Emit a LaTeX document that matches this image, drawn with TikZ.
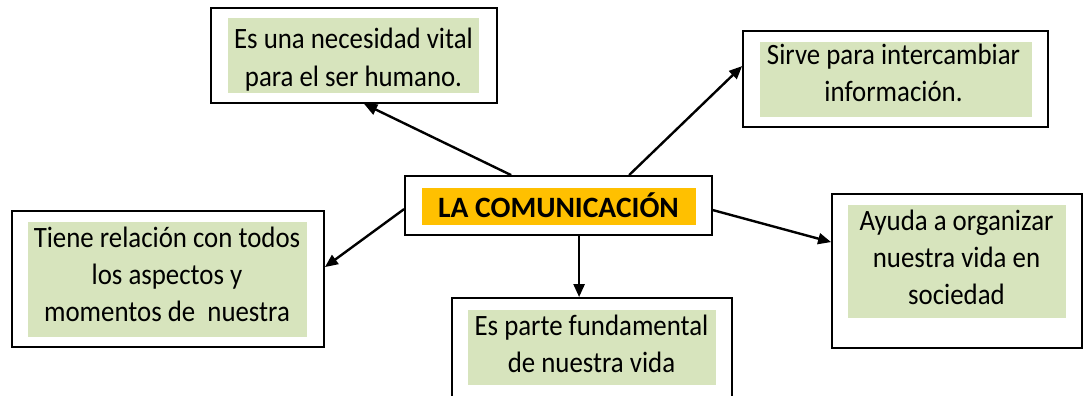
\documentclass[tikz,border=0pt]{standalone}
\usepackage{fontspec}
\setmainfont{Carlito}
\usetikzlibrary{arrows.meta}
\definecolor{boxgreen}{RGB}{215,228,189}
\definecolor{boxorange}{RGB}{255,192,0}
\newcommand\mylines[1]{\scalebox{0.91}[1]{\vtop{\halign{\hfil##\hfil\cr#1\crcr}}}}
\begin{document}
\begin{tikzpicture}[x=1pt,y=-1pt,
  outerbox/.style={draw=black,line width=1.8pt,fill=white,inner sep=0pt,rectangle},
  greenbox/.style={fill=boxgreen,inner sep=0pt,rectangle},
  orangebox/.style={fill=boxorange,inner sep=0pt,rectangle},
  txt/.style={anchor=base,inner sep=0pt,font=\fontsize{29.5pt}{37pt}\selectfont},
  boldtxt/.style={anchor=base,inner sep=0pt,font=\fontsize{29.5pt}{37pt}\selectfont\bfseries},
  conn/.style={line width=2.4pt,-{Triangle[length=13pt,width=11pt]}}]
\useasboundingbox (0,0) rectangle (1085,396);
\clip (0,0) rectangle (1085,396);

% outer boxes
\node[outerbox,minimum width=286pt,minimum height=95pt] (a) at (354,55.5) {};
\node[outerbox,minimum width=305pt,minimum height=96pt] (b) at (895.5,79) {};
\node[outerbox,minimum width=307pt,minimum height=59pt] (c) at (558.5,205.5) {};
\node[outerbox,minimum width=312pt,minimum height=136pt] (l) at (168,279) {};
\node[outerbox,minimum width=280pt,minimum height=122pt] (d) at (592,359) {};
\node[outerbox,minimum width=250pt,minimum height=154pt] (r) at (957,271) {};

% inner fills
\node[greenbox,minimum width=251pt,minimum height=75pt] (ag) at (353.5,55.5) {};
\node[greenbox,minimum width=272pt,minimum height=75pt] (bg) at (896,79.5) {};
\node[orangebox,minimum width=274pt,minimum height=37pt] (cg) at (559,206.5) {};
\node[greenbox,minimum width=279pt,minimum height=115pt] (lg) at (167.5,279.5) {};
\node[greenbox,minimum width=248pt,minimum height=75pt] (dg) at (592,347.5) {};
\node[greenbox,minimum width=218pt,minimum height=113pt] (rg) at (957,261.5) {};

% texts
\node[txt] (at) at (353.5,49) {\mylines{Es una necesidad vital\cr para el ser humano.}};
\node[txt] (bt) at (893.5,65) {\mylines{Sirve para intercambiar\cr información.}};
\node[boldtxt] (ct) at (558.5,217) {LA COMUNICACIÓN};
\node[txt] (lt) at (167,247) {\mylines{Tiene relación con todos\cr los aspectos y\cr momentos de\ \ nuestra}};
\node[txt] (dt) at (591.5,335) {\mylines{Es parte fundamental\cr de nuestra vida}};
\node[txt] (rt) at (956.5,230) {\mylines{Ayuda a organizar\cr nuestra vida en\cr sociedad}};

% connectors
\draw[conn] ([xshift=107pt]c.north west) -- ([xshift=154pt]a.south west);
\draw[conn] ([xshift=225pt]c.north west) -- ([yshift=-36pt]b.north west);
\draw[conn] ([yshift=-34pt]c.north west) -- ([yshift=-57pt]l.north east);
\draw[conn] ([xshift=175pt]c.south west) -- ([xshift=128pt]d.north west);
\draw[conn] ([yshift=-35pt]c.north east) -- ([yshift=-49pt]r.north west);
\end{tikzpicture}
\end{document}
